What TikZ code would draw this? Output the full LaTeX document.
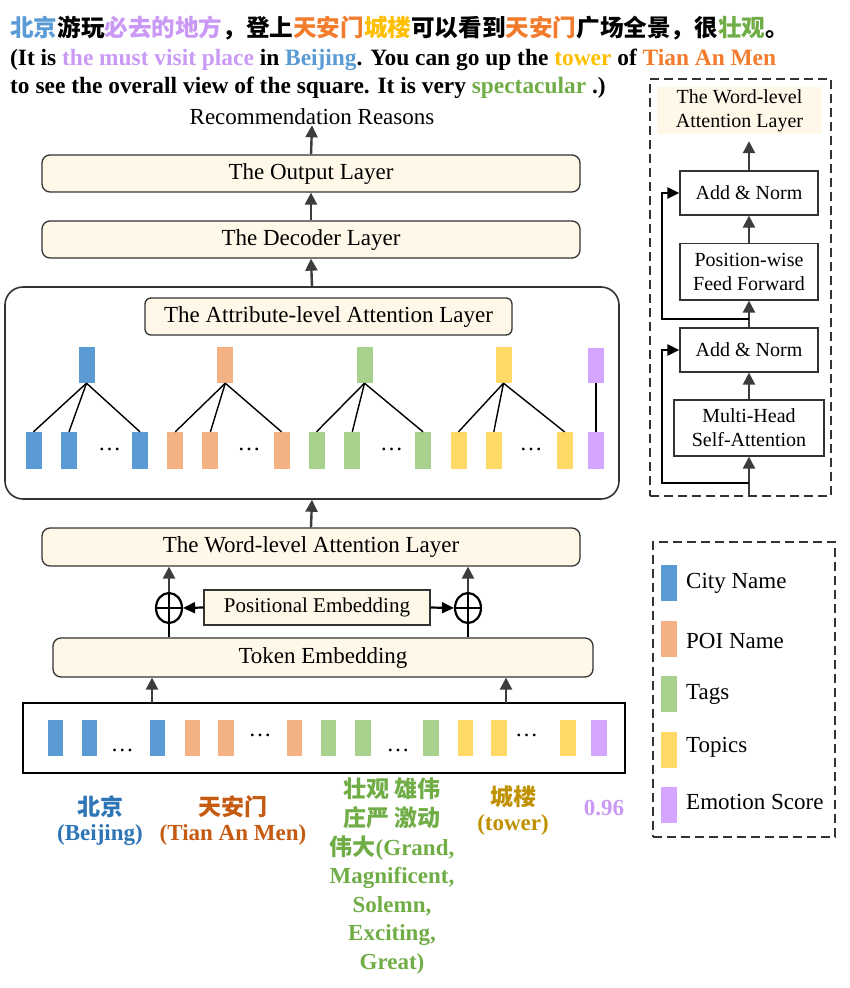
\documentclass[tikz,border=0pt]{standalone}
\usepackage{fontspec}
\setmainfont{Liberation Serif}
\newfontfamily\cjk{Noto Sans CJK SC}
\usetikzlibrary{arrows.meta,shapes.geometric,calc}
\definecolor{beige}{HTML}{FFF8E8}
\definecolor{linec}{HTML}{333333}
\definecolor{arrc}{HTML}{3C3C3C}
\definecolor{cB}{HTML}{5B9BD5}
\definecolor{cO}{HTML}{F4B183}
\definecolor{cG}{HTML}{A9D18E}
\definecolor{cY}{HTML}{FFD966}
\definecolor{cP}{HTML}{D5A6FF}
\definecolor{tB}{HTML}{5B9BD5}
\definecolor{tP}{HTML}{C999F5}
\definecolor{tO}{HTML}{F27B2C}
\definecolor{tY}{HTML}{FFBF00}
\definecolor{tG}{HTML}{70AD47}
\definecolor{lB}{HTML}{2E75B6}
\definecolor{lO}{HTML}{C55A11}
\definecolor{lY}{HTML}{BF9000}
\tikzset{
  layer/.style={draw=linec, fill=beige, rounded corners=8pt, line width=1.3pt,
    minimum width=538pt, minimum height=37pt, inner sep=0pt,
    font=\fontsize{23}{27}\selectfont},
  arr/.style={draw=arrc, line width=2.4pt, -{Triangle[length=12pt,width=12pt]}},
  arrk/.style={draw=black, line width=2.2pt, -{Triangle[length=12pt,width=11pt]}},
  thinl/.style={draw=black, line width=1.4pt},
  bar/.style={minimum width=16pt, minimum height=36pt, inner sep=0pt},
  rbox/.style={draw=linec, fill=white, line width=1.3pt, inner sep=0pt,
    minimum width=138pt, minimum height=44pt, align=center,
    font=\fontsize{20}{24}\selectfont},
  dots/.style={inner sep=0pt, font=\fontsize{23}{27}\selectfont},
  lab/.style={inner sep=0pt, font=\bfseries\fontsize{23}{28}\selectfont},
  leg/.style={anchor=west, inner sep=0pt, font=\fontsize{23}{27}\selectfont},
}
\begin{document}
\begin{tikzpicture}[x=1pt,y=-1pt]
\useasboundingbox (0,0) rectangle (849,988);

% ---------- title text ----------
\node[anchor=base west, inner sep=0pt, font=\cjk\bfseries\fontsize{23.6}{28}\selectfont] (t1) at (10,36)
 {\textcolor{tB}{北京}游玩\textcolor{tP}{必去的地方}，登上\textcolor{tO}{天安门}\textcolor{tY}{城楼}可以看到\textcolor{tO}{天安门}广场全景，很\textcolor{tG}{壮观}。};
\node[anchor=base west, inner sep=0pt, font=\bfseries\fontsize{23.4}{28}\selectfont] (t2) at (10,65)
 {(It is \textcolor{tP}{the must visit place} in \textcolor{tB}{Beijing}. You can go up the \textcolor{tY}{tower} of \textcolor{tO}{Tian An Men}};
\node[anchor=base west, inner sep=0pt, font=\bfseries\fontsize{23.4}{28}\selectfont] (t3) at (10,93)
 {to see the overall view of the square. It is very \textcolor{tG}{spectacular} .)};

% ---------- main stack ----------
\node[inner sep=0pt, font=\fontsize{23}{27}\selectfont] (rec) at (312,117) {Recommendation Reasons};
\node[layer] (out) at (311,173.5) {The Output Layer};
\node[layer] (dec) at (311,239.5) {The Decoder Layer};
\node[draw=linec, line width=1.6pt, rounded corners=18pt, minimum width=614pt,
      minimum height=212pt, inner sep=0pt] (big) at (312,393) {};
\node[layer, minimum width=367pt, rounded corners=6pt] (att) at (328.5,316.5) {The Attribute-level Attention Layer};
\node[layer, minimum height=38pt] (word) at (311,547) {The Word-level Attention Layer};
\node[layer, minimum width=540pt, minimum height=39pt] (tok) at (323,657.5) {Token Embedding};
\node[draw=linec, fill=beige, line width=1.3pt, minimum width=226pt, minimum height=35pt,
      inner sep=0pt, font=\fontsize{21}{25}\selectfont] (pos) at (317,607.5) {Positional Embedding};
\node[draw=black, line width=2.2pt, ellipse, minimum width=26pt, minimum height=30pt, inner sep=0pt] (c1) at (169,608) {};
\node[draw=black, line width=2.2pt, ellipse, minimum width=26pt, minimum height=30pt, inner sep=0pt] (c2) at (468,608) {};
\node[draw=black, line width=1.8pt, minimum width=602pt, minimum height=70pt, inner sep=0pt] (inp) at (324,738) {};

\draw[arr] (out.north) -- (rec.south);
\draw[arr] (dec.north) -- (out.south);
\draw[arr] (big.north) -- (dec.south);
\draw[arr] (word.north) -- (big.south);

% plus circles
\draw[thinl] (c1.west) -- (c1.east);
\draw[thinl] (c2.west) -- (c2.east);
\draw[thinl] (tok.north -| c1) -- (c1.north);
\draw[thinl] (tok.north -| c2) -- (c2.north);
\draw[arr] (c1.north) -- (word.south -| c1);
\draw[arr] (c2.north) -- (word.south -| c2);
\draw[arrk] (pos.west) -- (c1.east);
\draw[arrk] (pos.east) -- (c2.west);

\coordinate (i1) at (152,703);
\coordinate (i2) at (506,703);
\draw[arr] (i1) -- (tok.south -| i1);
\draw[arr] (i2) -- (tok.south -| i2);

% ---------- attribute-level bars ----------
\node[bar, fill=cB] (hB) at (86.5,365) {};
\node[bar, fill=cO] (hO) at (225.3,365) {};
\node[bar, fill=cG] (hG) at (364.5,365) {};
\node[bar, fill=cY] (hY) at (503.5,365) {};
\node[bar, fill=cP, minimum height=35pt] (hP) at (595.8,365.5) {};

\foreach \n/\x/\c in {B1/33.5/cB, B2/69/cB, B3/140/cB,
                      O1/175.3/cO, O2/210.4/cO, O3/281.5/cO,
                      G1/316.5/cG, G2/352.3/cG, G3/423/cG,
                      Y1/458.5/cY, Y2/493.8/cY, Y3/564.5/cY,
                      P1/595.8/cP}
  \node[bar, fill=\c, minimum height=37pt] (a\n) at (\x,450.5) {};

\foreach \g in {B,O,G,Y}
  \foreach \k in {1,2,3}
    \draw[thinl] (h\g.south) -- (a\g\k.north);
\draw[thinl] (hP.south) -- (aP1.north);

\node[dots] (d1) at (109.5,449) {…};
\node[dots] (d2) at (249,449) {…};
\node[dots] (d3) at (391.5,449) {…};
\node[dots] (d4) at (531,449) {…};

% ---------- input bars ----------
\foreach \n/\x/\c in {B1/55.4/cB, B2/89.3/cB, B3/157.5/cB,
                      O1/192.3/cO, O2/226/cO, O3/294.5/cO,
                      G1/328.5/cG, G2/363/cG, G3/431/cG,
                      Y1/465.3/cY, Y2/499/cY, Y3/567.8/cY,
                      P1/599/cP}
  \node[bar, fill=\c, minimum width=15.5pt] (e\n) at (\x,738) {};
\node[dots] (f1) at (122.4,750) {…};
\node[dots] (f2) at (260,735) {…};
\node[dots] (f3) at (398,750) {…};
\node[dots] (f4) at (526.5,735) {…};

% ---------- bottom labels ----------
\node[lab, text=lB, font=\cjk\bfseries\fontsize{23}{28}\selectfont] (l1a) at (100,807) {北京};
\node[lab, text=lB] (l1b) at (100,835) {(Beijing)};
\node[lab, text=lO, font=\cjk\bfseries\fontsize{23}{28}\selectfont] (l2a) at (233,807) {天安门};
\node[lab, text=lO] (l2b) at (233,835) {(Tian An Men)};
\node[lab, text=tG, anchor=north, align=center, font=\bfseries\fontsize{23}{28.6}\selectfont] (l3) at (392,778)
 {{\cjk 壮观 雄伟}\\{\cjk 庄严 激动}\\{\cjk 伟大}(Grand,\\Magnificent,\\Solemn,\\Exciting,\\Great)};
\node[lab, text=lY, font=\cjk\bfseries\fontsize{23}{28}\selectfont] (l4a) at (513,797) {城楼};
\node[lab, text=lY] (l4b) at (513,825) {(tower)};
\node[lab, text=tP] (l5) at (604,808) {0.96};

% ---------- right panel (transformer block) ----------
\node[draw=linec, dashed, dash pattern=on 9pt off 5pt, line width=1.6pt,
      minimum width=181pt, minimum height=417pt, inner sep=0pt] (rp) at (740.5,287.5) {};
\node[fill=beige, minimum width=165pt, minimum height=47pt, inner sep=0pt, align=center,
      font=\fontsize{20}{24}\selectfont] (wl) at (739.5,110.5) {The Word-level\\Attention Layer};
\node[rbox] (an2) at (749,193) {Add \& Norm};
\node[rbox, minimum height=56.5pt] (ff) at (749,271.7) {Position-wise\\Feed Forward};
\node[rbox] (an1) at (749,350) {Add \& Norm};
\node[rbox, minimum width=150pt, minimum height=56pt] (mh) at (749,428) {Multi-Head\\Self-Attention};

\draw[arr] (mh.south |- rp.south) -- (mh.south);
\draw[arr] (mh.north) -- (an1.south);
\draw[arr] (an1.north) -- (ff.south);
\draw[arr] (ff.north) -- (an2.south);
\draw[arr, shorten >=7pt] (an2.north) -- (an2.north |- wl.south);

\coordinate (r1) at (749,483);
\coordinate (r2) at (749,319);
\draw[arrk] (r1) -- (662,483) |- (an1.west);
\draw[arrk] (r2) -- (662,319) |- (an2.west);

% ---------- legend ----------
\node[draw=linec, dashed, dash pattern=on 9pt off 5pt, line width=1.6pt,
      minimum width=182pt, minimum height=295pt, inner sep=0pt] (lg) at (744,689.5) {};
\node[bar, fill=cB] (g1) at (669,583.3) {};
\node[bar, fill=cO] (g2) at (669,638.5) {};
\node[bar, fill=cG] (g3) at (669,694.3) {};
\node[bar, fill=cY] (g4) at (669,749.5) {};
\node[bar, fill=cP] (g5) at (669,804.7) {};
\node[leg] (k1) at (686,583.3) {City Name};
\node[leg] (k2) at (686,641) {POI Name};
\node[leg] (k3) at (686,694.3) {Tags};
\node[leg] (k4) at (686,747) {Topics};
\node[leg] (k5) at (686,802) {Emotion Score};
\end{tikzpicture}
\end{document}
